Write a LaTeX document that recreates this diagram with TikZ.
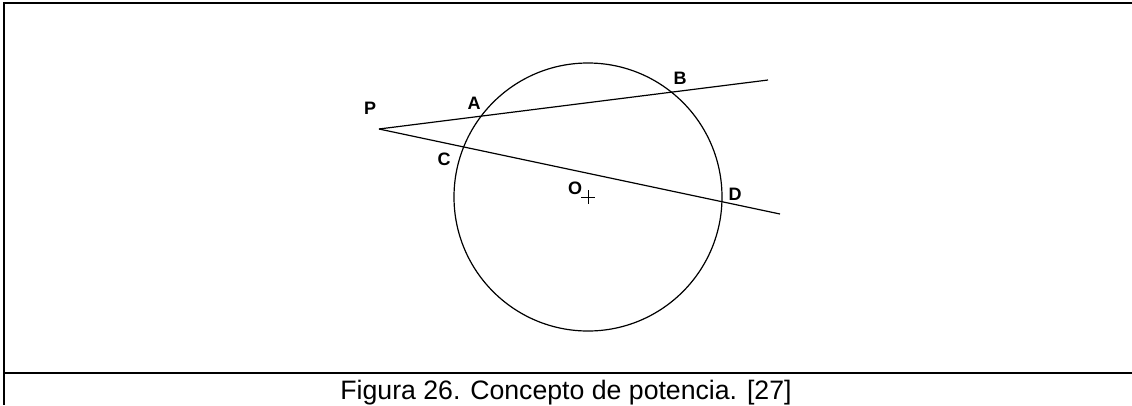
\documentclass[tikz,border=0pt]{standalone}
\usepackage{fontspec}
\setsansfont{Liberation Sans}
\newfontfamily\captionfont{Liberation Sans}
\usetikzlibrary{calc,positioning}

\begin{document}
\begin{tikzpicture}[x=0.75pt, y=-0.75pt, font=\sffamily,
    linea/.style={line width=0.9pt, draw=black},
    marco/.style={line width=1.9pt, draw=black},
    etiqueta/.style={font=\sffamily\bfseries\fontsize{13.5}{15}\selectfont, inner sep=0pt}]

\useasboundingbox (0,0) rectangle (1132,405);

%%% ---------- MARCO ----------
\draw[marco] (1132,3) -- (4,3) -- (4,405);
\draw[marco] (4,373) -- (1132,373);

%%% ---------- PUNTOS ----------
\coordinate (O) at (588,197);
\coordinate (P) at (379,129);
\coordinate (finAB) at (768,80);
\coordinate (finCD) at (780,214);

% Circunferencia y secantes
\draw[linea] (O) circle[radius=134];
\draw[linea] (P) -- (finAB);
\draw[linea] (P) -- (finCD);

% Centro
\draw[line width=0.6pt] ($(O)+(-7,0)$) -- ($(O)+(7,0)$);
\draw[line width=0.6pt] ($(O)+(0,-7)$) -- ($(O)+(0,7)$);

%%% ---------- ETIQUETAS ----------
\node[etiqueta] (labP) at (370,108) {P};
\node[etiqueta] (labA) at (474,103) {A};
\node[etiqueta] (labB) at (680,78) {B};
\node[etiqueta] (labC) at (444,159) {C};
\node[etiqueta] (labD) at (735,194) {D};
\node[etiqueta] (labO) at (575,188) {O};

% Pie de figura
\node[anchor=base, inner sep=0pt, font=\captionfont\fontsize{20}{22}\selectfont]
    (pie) at (566,399) {Figura 26. Concepto de potencia. [27]};

\end{tikzpicture}
\end{document}
